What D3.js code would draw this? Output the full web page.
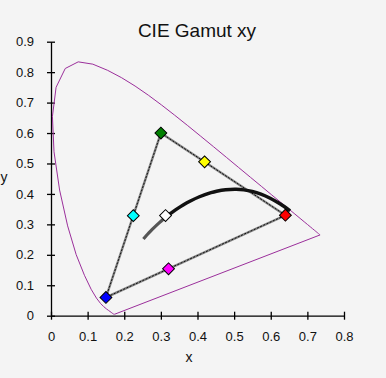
<!DOCTYPE html>
<html>
<head>
<meta charset="utf-8">
<script src="https://cdn.jsdelivr.net/npm/d3@7"></script>
<style>
  html, body { margin: 0; padding: 0; background: #f4f4f4; }
  #chart { width: 386px; height: 378px; }
  text { font-family: "Liberation Sans", Arial, sans-serif; fill: #111; }
</style>
</head>
<body>
<div id="chart"></div>
<script>
// CIE 1931 spectral locus, 380..700 nm every 5 nm
const locusX = [0.1741,0.1740,0.1738,0.1736,0.1733,0.1730,0.1726,0.1721,0.1714,0.1703,0.1689,0.1669,0.1644,0.1611,0.1566,0.1510,0.1440,0.1355,0.1241,0.1096,0.0913,0.0687,0.0454,0.0235,0.0082,0.0039,0.0139,0.0389,0.0743,0.1142,0.1547,0.1929,0.2296,0.2658,0.3016,0.3373,0.3731,0.4087,0.4441,0.4788,0.5125,0.5448,0.5752,0.6029,0.6270,0.6482,0.6658,0.6801,0.6915,0.7006,0.7079,0.7140,0.7190,0.7230,0.7260,0.7283,0.7300,0.7311,0.7320,0.7327,0.7334,0.7340,0.7344,0.7346,0.7347];
const locusY = [0.0050,0.0050,0.0049,0.0049,0.0048,0.0048,0.0048,0.0048,0.0051,0.0058,0.0069,0.0086,0.0109,0.0138,0.0177,0.0227,0.0297,0.0399,0.0578,0.0868,0.1327,0.2007,0.2950,0.4127,0.5384,0.6548,0.7502,0.8120,0.8338,0.8262,0.8059,0.7816,0.7543,0.7243,0.6923,0.6589,0.6245,0.5896,0.5547,0.5202,0.4866,0.4544,0.4242,0.3965,0.3725,0.3514,0.3340,0.3197,0.3083,0.2993,0.2920,0.2859,0.2809,0.2770,0.2740,0.2717,0.2700,0.2689,0.2680,0.2673,0.2666,0.2660,0.2656,0.2654,0.2653];

// Planckian locus, hot (25000K) to cool (1000K)
const planckX = [0.2524,0.2565,0.2637,0.2719,0.2807,0.2952,0.3064,0.3135,0.3221,0.3325,0.3451,0.3608,0.3805,0.4053,0.4369,0.4521,0.4770,0.5056,0.5267,0.5493,0.5732,0.5985,0.6251,0.6528];
const planckY = [0.2519,0.2577,0.2676,0.2779,0.2884,0.3048,0.3166,0.3237,0.3318,0.3411,0.3516,0.3636,0.3768,0.3907,0.4041,0.4088,0.4137,0.4152,0.4133,0.4082,0.3993,0.3858,0.3674,0.3444];
const planckSplit = 7; // index where the curve turns from grey to black

// gamut primaries / secondaries / white point
const gamutNames = ["green", "red", "blue"];
const gamutX = [0.30, 0.64, 0.15];
const gamutY = [0.60, 0.33, 0.06];
const pointNames = ["green", "yellow", "red", "magenta", "blue", "cyan", "white"];
const pointX = [0.30, 0.4193, 0.64, 0.3209, 0.15, 0.2247, 0.3127];
const pointY = [0.60, 0.5053, 0.33, 0.1542, 0.06, 0.3287, 0.3290];
const pointColors = ["#008000", "#ffff00", "#ff0000", "#ff00ff", "#0000ff", "#00ffff", "#ffffff"];

const xTicks = [0, 0.1, 0.2, 0.3, 0.4, 0.5, 0.6, 0.7, 0.8];
const yTicks = [0, 0.1, 0.2, 0.3, 0.4, 0.5, 0.6, 0.7, 0.8, 0.9];

function draw() {
  const width = 386, height = 378;
  const svg = d3.select("#chart").append("svg")
    .attr("width", width).attr("height", height);

  svg.append("rect").attr("width", width).attr("height", height).attr("fill", "#f4f4f4");

  const x = d3.scaleLinear().domain([0, 0.8]).range([51, 344]);
  const y = d3.scaleLinear().domain([0, 0.9]).range([315.7, 41.7]);

  // axes
  const xAxis = svg.append("g")
    .attr("transform", `translate(0,${y(0)})`)
    .call(d3.axisBottom(x).tickValues(xTicks).tickFormat(d3.format("")).tickSizeOuter(0).tickPadding(10));
  const yAxis = svg.append("g")
    .attr("transform", `translate(${x(0)},0)`)
    .call(d3.axisLeft(y).tickValues(yTicks).tickFormat(d3.format("")).tickSizeOuter(0).tickPadding(11));

  xAxis.selectAll(".tick line").attr("y1", -4).attr("y2", 4);
  yAxis.selectAll(".tick line").attr("x1", -4).attr("x2", 4);
  [xAxis, yAxis].forEach(a => {
    a.select(".domain").attr("stroke", "#000").attr("stroke-width", 1.3);
    a.selectAll(".tick line").attr("stroke", "#000").attr("stroke-width", 1.3);
    a.selectAll(".tick text").attr("font-size", 13).attr("fill", "#111")
      .style("font-family", "'Liberation Sans', Arial, sans-serif");
  });

  // spectral locus
  const locus = locusX.map((v, i) => [v, locusY[i]]);
  svg.append("path")
    .datum(locus)
    .attr("fill", "none")
    .attr("stroke", "#9b2f9b")
    .attr("stroke-width", 1)
    .attr("d", d3.line().x(d => x(d[0])).y(d => y(d[1])).curve(d3.curveLinearClosed));

  // gamut triangle
  const tri = gamutX.map((v, i) => [v, gamutY[i]]);
  const triLine = d3.line().x(d => x(d[0])).y(d => y(d[1])).curve(d3.curveLinearClosed);
  svg.append("path").datum(tri).attr("fill", "none")
    .attr("stroke", "#858585").attr("stroke-width", 2.4).attr("d", triLine);
  svg.append("path").datum(tri).attr("fill", "none")
    .attr("stroke", "#111").attr("stroke-width", 1).attr("stroke-dasharray", "2,1.5").attr("d", triLine);

  // planckian locus
  const planck = planckX.map((v, i) => [v, planckY[i]]);
  const pLine = d3.line().x(d => x(d[0])).y(d => y(d[1])).curve(d3.curveCatmullRom);
  svg.append("path").datum(planck.slice(0, planckSplit + 1)).attr("fill", "none")
    .attr("stroke", "#555").attr("stroke-width", 3.2).attr("d", pLine);
  svg.append("path").datum(planck.slice(planckSplit)).attr("fill", "none")
    .attr("stroke", "#111").attr("stroke-width", 3.5).attr("d", pLine);

  // markers
  const sym = d3.symbol().type(d3.symbolSquare).size(70);
  svg.selectAll(".pt")
    .data(pointNames)
    .enter().append("path")
    .attr("class", "pt")
    .attr("d", sym)
    .attr("transform", (d, i) => `translate(${x(pointX[i])},${y(pointY[i])}) rotate(45)`)
    .attr("fill", (d, i) => pointColors[i])
    .attr("stroke", "#000")
    .attr("stroke-width", 1);

  // titles
  svg.append("text").attr("x", 197).attr("y", 37).attr("text-anchor", "middle")
    .attr("font-size", 19).text("CIE Gamut xy");
  svg.append("text").attr("x", 189).attr("y", 362).attr("text-anchor", "middle")
    .attr("font-size", 14).text("x");
  svg.append("text").attr("x", 4).attr("y", 182).attr("text-anchor", "middle")
    .attr("font-size", 14).text("y");
}

draw();
</script>
</body>
</html>
